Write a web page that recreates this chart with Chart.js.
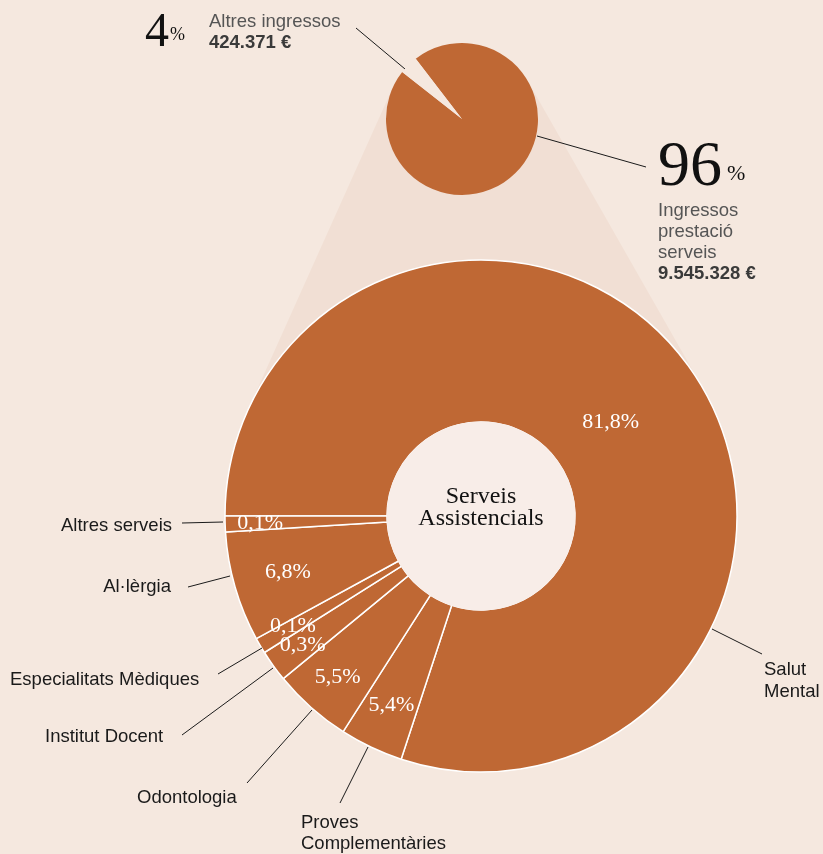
<!DOCTYPE html>
<html lang="ca">
<head>
<meta charset="utf-8">
<title>Serveis Assistencials</title>
<script src="https://cdn.jsdelivr.net/npm/chart.js@4.4.1/dist/chart.umd.min.js"></script>
<style>
  html, body { margin: 0; padding: 0; background: #f5e8df; }
  #wrap { position: relative; width: 823px; height: 854px; overflow: hidden; }
  canvas { position: absolute; }
  #bigChart { left: 0; top: 0; z-index: 0; }
  #smallChart { left: 372px; top: 29px; z-index: 1; }
  .lbl { position: absolute; z-index: 2; font-family: "Liberation Sans", Arial, sans-serif; font-size: 18.5px; line-height: 21px; color: #1a1a1a; white-space: nowrap; }
  .serif { position: absolute; z-index: 2; font-family: "Liberation Serif", serif; line-height: 1; color: #111; white-space: nowrap; }
  .gray { color: #555; }
  .num { color: #3a3a3a; font-weight: bold; }
</style>
</head>
<body>
<div id="wrap">
  <canvas id="bigChart" width="823" height="854"></canvas>
  <canvas id="smallChart" width="180" height="180"></canvas>

  <!-- top split -->
  <div class="serif" style="left:145px;top:6px;font-size:48px;">4</div>
  <div class="serif" style="left:170px;top:25px;font-size:18px;">%</div>
  <div class="lbl gray" style="left:209px;top:10px;">Altres ingressos<br><span class="num">424.371 €</span></div>

  <div class="serif" style="left:658px;top:132px;font-size:64px;">96</div>
  <div class="serif" style="left:727px;top:162px;font-size:22px;">%</div>
  <div class="lbl gray" style="left:658px;top:199px;">Ingressos<br>prestació<br>serveis<br><span class="num">9.545.328 €</span></div>

  <!-- ring labels -->
  <div class="lbl" style="right:651px;top:514px;">Altres serveis</div>
  <div class="lbl" style="right:652px;top:575px;">Al·lèrgia</div>
  <div class="lbl" style="left:10px;top:668px;">Especialitats Mèdiques</div>
  <div class="lbl" style="left:45px;top:725px;">Institut Docent</div>
  <div class="lbl" style="left:137px;top:786px;">Odontologia</div>
  <div class="lbl" style="left:301px;top:811px;">Proves<br>Complementàries</div>
  <div class="lbl" style="left:764px;top:658px;line-height:22px;">Salut<br>Mental</div>

  <div class="serif" style="left:381px;top:484px;width:200px;text-align:center;font-size:24px;line-height:22px;color:#111;">Serveis<br>Assistencials</div>
</div>

<script>
const ORANGE = "#bf6834";
const BG = "#f5e8df";
const WEDGE = "#f1dfd4";
const HOLE = "#f8ede8";

// income split (top pie)
const incomeLabels = ["Ingressos prestació serveis", "Altres ingressos"];
const incomeShares = [96, 4];

// care services (ring), clockwise from 9 o'clock
const serviceLabels = ["Salut Mental", "Proves Complementàries", "Odontologia", "Institut Docent", "Especialitats Mèdiques", "Al·lèrgia", "Altres serveis"];
const printedShares = [81.8, 5.4, 5.5, 0.3, 0.1, 6.8, 0.1];
// arc sizes as drawn in the picture (tiny services are drawn wider than their share)
const arcShares = [80.05, 4.0, 5.0, 2.0, 1.0, 6.95, 1.0];

// label distance from centre, per slice
const labelRadius = [160, 209, 216, 220, 218, 201, 221];

// leader lines [x1, y1, x2, y2]
const leaders = [
  [356, 28, 405, 69],
  [537, 136, 646, 167],
  [182, 523, 223, 522],
  [188, 587, 230, 576],
  [218, 674, 262, 648],
  [182, 735, 273, 668],
  [247, 783, 312, 710],
  [340, 803, 368, 747],
  [712, 629, 762, 654]
];

// top pie position on the page
const PIE = { x: 462, y: 119, r: 76 };

const fmtPct = (v) => v.toFixed(1).replace(".", ",") + "%";

const smallChart = new Chart(document.getElementById("smallChart").getContext("2d"), {
  type: "pie",
  data: {
    labels: incomeLabels,
    datasets: [{
      data: incomeShares,
      backgroundColor: [ORANGE, BG],
      borderWidth: 0
    }]
  },
  options: {
    responsive: false,
    animation: false,
    events: [],
    rotation: 322.5,
    radius: PIE.r,
    plugins: { legend: { display: false }, tooltip: { enabled: false } }
  }
});

const ringDecor = {
  id: "ringDecor",
  beforeDatasetsDraw(chart) {
    const arc = chart.getDatasetMeta(0).data[0];
    const cx = arc.x, cy = arc.y, R = arc.outerRadius;
    // band between the top pie and the ring (outer tangents)
    const dx = cx - PIE.x, dy = cy - PIE.y;
    const D = Math.hypot(dx, dy);
    const phi = Math.atan2(dy, dx);
    const th = Math.acos((PIE.r - R) / D);
    const a1 = phi + th, a2 = phi - th;
    const ctx = chart.ctx;
    ctx.save();
    ctx.fillStyle = WEDGE;
    ctx.beginPath();
    ctx.moveTo(PIE.x + PIE.r * Math.cos(a1), PIE.y + PIE.r * Math.sin(a1));
    ctx.lineTo(PIE.x + PIE.r * Math.cos(a2), PIE.y + PIE.r * Math.sin(a2));
    ctx.lineTo(cx + R * Math.cos(a2), cy + R * Math.sin(a2));
    ctx.lineTo(cx + R * Math.cos(a1), cy + R * Math.sin(a1));
    ctx.closePath();
    ctx.fill();
    ctx.restore();
  },
  afterDatasetsDraw(chart) {
    const ctx = chart.ctx;
    const meta = chart.getDatasetMeta(0);
    const { x, y, innerRadius } = meta.data[0];
    ctx.save();
    ctx.fillStyle = HOLE;
    ctx.beginPath();
    ctx.arc(x, y, innerRadius + 0.5, 0, Math.PI * 2);
    ctx.fill();

    ctx.fillStyle = "#fff";
    ctx.font = '22px "Liberation Serif", serif';
    ctx.textAlign = "center";
    ctx.textBaseline = "middle";
    meta.data.forEach((el, i) => {
      const mid = (el.startAngle + el.endAngle) / 2;
      ctx.fillText(fmtPct(printedShares[i]), x + Math.cos(mid) * labelRadius[i], y + Math.sin(mid) * labelRadius[i]);
    });

    ctx.strokeStyle = "#1a1a1a";
    ctx.lineWidth = 1;
    leaders.forEach(([x1, y1, x2, y2]) => {
      ctx.beginPath();
      ctx.moveTo(x1, y1);
      ctx.lineTo(x2, y2);
      ctx.stroke();
    });
    ctx.restore();
  }
};

const bigChart = new Chart(document.getElementById("bigChart").getContext("2d"), {
  type: "doughnut",
  data: {
    labels: serviceLabels,
    datasets: [{
      data: arcShares,
      backgroundColor: ORANGE,
      borderColor: "#ffffff",
      borderWidth: 1.5
    }]
  },
  options: {
    responsive: false,
    animation: false,
    events: [],
    rotation: 270,
    radius: 256,
    cutout: "36.7%",
    layout: { padding: { left: 219, right: 80, top: 258, bottom: 80 } },
    plugins: { legend: { display: false }, tooltip: { enabled: false } }
  },
  plugins: [ringDecor]
});
</script>
</body>
</html>
